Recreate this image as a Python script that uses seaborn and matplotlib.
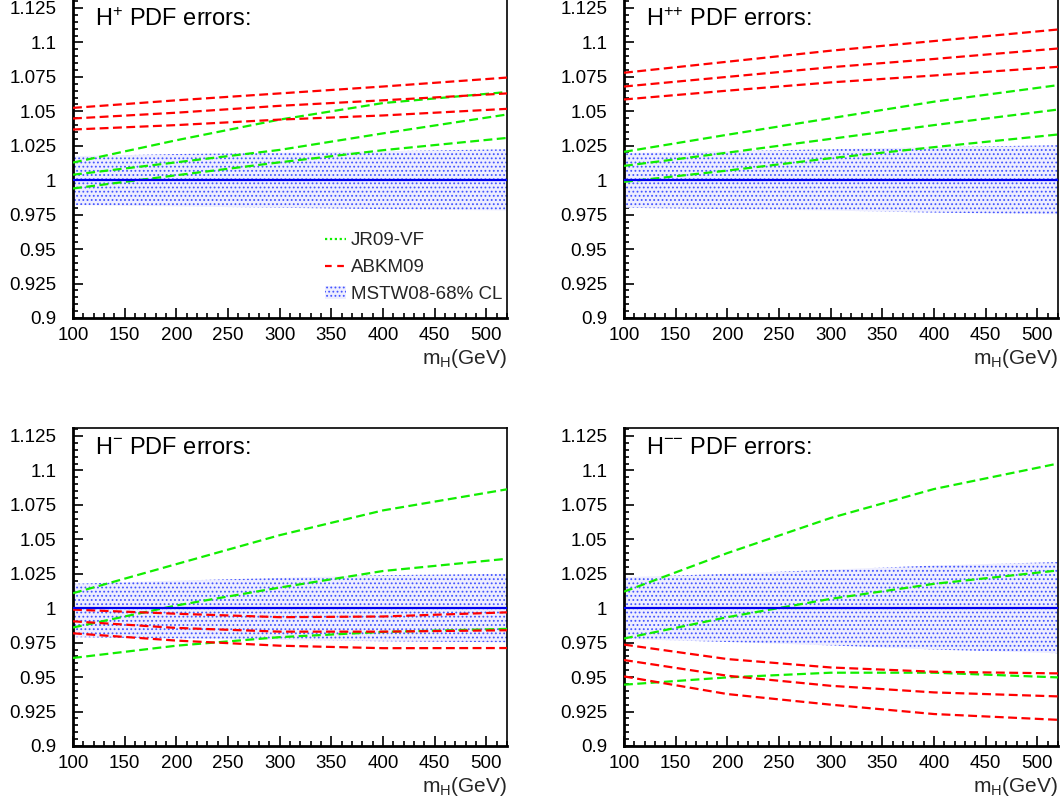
import numpy as np
import pandas as pd
import matplotlib
matplotlib.use("Agg")
import matplotlib.pyplot as plt
import seaborn as sns
from matplotlib.lines import Line2D
from matplotlib.patches import Patch
from matplotlib.ticker import MultipleLocator

sns.set_theme(style="white")
plt.rcParams['font.family'] = ['Liberation Sans', 'DejaVu Sans']
plt.rcParams['mathtext.fontset'] = 'custom'
plt.rcParams['mathtext.rm'] = 'Liberation Sans'
plt.rcParams['mathtext.it'] = 'Liberation Sans:italic'
plt.rcParams['mathtext.bf'] = 'Liberation Sans:bold'
plt.rcParams['hatch.linewidth'] = 0.8

# ---------------- data ----------------
mass = [100, 200, 300, 400, 520]

titles = ["H$^{+}$ PDF errors:", "H$^{{+}{+}}$ PDF errors:",
          "H$^{\\mathregular{-}}$ PDF errors:", "H$^{{-}{-}}$ PDF errors:"]

# ABKM09 (red) curves, three per panel
abkm_hp = [[1.0525, 1.058, 1.063, 1.068, 1.0745],
           [1.0448, 1.049, 1.054, 1.058, 1.063],
           [1.0368, 1.040, 1.044, 1.047, 1.0518]]
abkm_hpp = [[1.078, 1.086, 1.094, 1.101, 1.1094],
            [1.068, 1.075, 1.082, 1.088, 1.0956],
            [1.0586, 1.065, 1.071, 1.076, 1.0823]]
abkm_hm = [[0.999, 0.996, 0.9935, 0.994, 0.997],
           [0.9905, 0.9857, 0.983, 0.983, 0.984],
           [0.9818, 0.9765, 0.9728, 0.971, 0.9711]]
abkm_hmm = [[0.9736, 0.9631, 0.957, 0.9539, 0.9527],
            [0.9624, 0.951, 0.9437, 0.9389, 0.936],
            [0.9505, 0.9377, 0.930, 0.9232, 0.919]]

# JR09-VF (green) curves, three per panel
jr_hp = [[1.0128, 1.029, 1.044, 1.056, 1.064],
         [1.004, 1.013, 1.022, 1.034, 1.0477],
         [0.994, 1.0036, 1.013, 1.0218, 1.0307]]
jr_hpp = [[1.0206, 1.033, 1.045, 1.057, 1.069],
          [1.0104, 1.020, 1.030, 1.040, 1.0513],
          [0.9988, 1.007, 1.016, 1.024, 1.0332]]
jr_hm = [[1.0109, 1.032, 1.053, 1.071, 1.0863],
         [0.986, 1.002, 1.015, 1.027, 1.0359],
         [0.9639, 0.9728, 0.979, 0.9828, 0.985]]
jr_hmm = [[1.012, 1.040, 1.0655, 1.0865, 1.105],
          [0.978, 0.9935, 1.0068, 1.0177, 1.0274],
          [0.9445, 0.9498, 0.9532, 0.9532, 0.9498]]

# MSTW08 68% CL band (upper, lower)
band_up = [[1.0174, 1.019, 1.020, 1.021, 1.0225],
           [1.0198, 1.021, 1.0225, 1.024, 1.0254],
           [1.0177, 1.020, 1.022, 1.024, 1.025],
           [1.0225, 1.025, 1.028, 1.031, 1.0335]]
band_lo = [[0.982, 0.981, 0.980, 0.979, 0.978],
           [0.980, 0.979, 0.978, 0.9765, 0.9753],
           [0.979, 0.978, 0.977, 0.976, 0.9753],
           [0.9777, 0.9755, 0.973, 0.970, 0.9673]]

abkm_all = [abkm_hp, abkm_hpp, abkm_hm, abkm_hmm]
jr_all = [jr_hp, jr_hpp, jr_hm, jr_hmm]

yticks = [0.9, 0.925, 0.95, 0.975, 1, 1.025, 1.05, 1.075, 1.1, 1.125]
ytick_labels = ["0.9", "0.925", "0.95", "0.975", "1", "1.025", "1.05", "1.075", "1.1", "1.125"]
xticks = [100, 150, 200, 250, 300, 350, 400, 450, 500]
legend_labels = ["JR09-VF", "ABKM09", "MSTW08-68% CL"]

# ---------------- figure ----------------
W, H = 1062, 798
fig = plt.figure(figsize=(W / 100, H / 100), dpi=100)

# axes boxes in pixels: (left, top, right, bottom)
boxes = [(73, 0, 507, 318), (624, 0, 1058, 318),
         (73, 428, 507, 746), (624, 428, 1058, 746)]

RED = "#ff0000"
GREEN = "#11ee00"
BLUE = "#0000ee"
BAND_FACE = "#eeeeff"
BAND_DOTS = "#4455ff"
dash = (4, 2)

for i, (l, t, r, b) in enumerate(boxes):
    ax = fig.add_axes([l / W, 1 - b / H, (r - l) / W, (b - t) / H])
    ax.set_facecolor("white")
    # band
    ax.fill_between(mass, band_lo[i], band_up[i], facecolor=BAND_FACE,
                    edgecolor=BAND_DOTS, hatch="....", linewidth=0, zorder=1)
    # lines
    for curve in jr_all[i]:
        sns.lineplot(x=mass, y=curve, ax=ax, color=GREEN, linewidth=1.6,
                     zorder=3).lines[-1].set_dashes(dash)
    for curve in abkm_all[i]:
        sns.lineplot(x=mass, y=curve, ax=ax, color=RED, linewidth=1.6,
                     zorder=3).lines[-1].set_dashes(dash)
    ax.axhline(1.0, color=BLUE, linewidth=1.6, zorder=4)

    ax.set_xlim(100, 520)
    ax.set_ylim(0.9, 1.1308)
    ax.set_yticks(yticks)
    ax.set_yticklabels(ytick_labels)
    ax.set_xticks(xticks)
    ax.xaxis.set_minor_locator(MultipleLocator(10))
    ax.yaxis.set_minor_locator(MultipleLocator(0.005))
    ax.tick_params(axis="both", which="major", direction="in", length=7,
                   width=1.2, colors="black", labelsize=13.5,
                   bottom=True, left=True, top=False, right=False)
    ax.tick_params(axis="both", which="minor", direction="in", length=3.5,
                   width=1.2, colors="black",
                   bottom=True, left=True, top=False, right=False)
    ax.tick_params(axis="x", which="major", pad=6.5)
    ax.tick_params(axis="y", which="major", pad=12)
    for s in ax.spines.values():
        s.set_color("black")
        s.set_linewidth(1.2)
    ax.spines["left"].set_linewidth(2.0)
    ax.spines["bottom"].set_linewidth(2.0)
    if i < 2:
        ax.spines["top"].set_visible(False)
    ax.grid(False)
    ax.set_xlabel("m$_{\\mathregular{H}}$(GeV)", fontsize=15, loc="right",
                  labelpad=2)
    ax.set_ylabel("")
    ax.text(0.05, 0.918, titles[i], transform=ax.transAxes, fontsize=17,
            ha="left", va="baseline", color="black")

    if i == 0:
        handles = [Line2D([0], [0], color=GREEN, linestyle=(0, (1, 1.2)), linewidth=1.6),
                   Line2D([0], [0], color=RED, linestyle=(0, (3, 2.5)), linewidth=1.6),
                   Patch(facecolor=BAND_FACE, edgecolor=BAND_DOTS, hatch="....", linewidth=0)]
        ax.legend(handles, legend_labels, loc="upper left", bbox_to_anchor=(0.58, 0.27),
                  frameon=False, fontsize=13.5, handlelength=1.15, handletextpad=0.25,
                  borderpad=0, borderaxespad=0, labelspacing=0.53)

fig.savefig("out.png", dpi=100)
